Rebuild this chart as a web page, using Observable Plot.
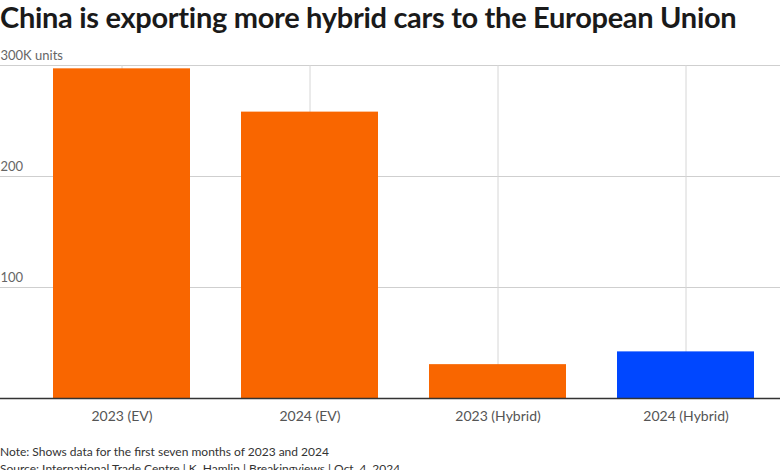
<!DOCTYPE html>
<html>
<head>
<meta charset="utf-8">
<script src="https://cdn.jsdelivr.net/npm/d3@7"></script>
<script src="https://cdn.jsdelivr.net/npm/@observablehq/plot@0.6"></script>
<style>
  body { margin: 0; background: #fff; font-family: Lato, "Noto Sans", sans-serif; }
  #title { font-size: 29px; font-weight: 700; color: #1a1a1a; height: 40px; line-height: 34px; white-space: nowrap; letter-spacing: -0.3px; }
  #caption { font-size: 12px; color: #333; line-height: 17px; margin-top: 13px; }
</style>
</head>
<body>
<div id="title">China is exporting more hybrid cars to the European Union</div>
<div id="chart"></div>
<div id="caption">Note: Shows data for the first seven months of 2023 and 2024<br>Source: International Trade Centre | K. Hamlin | Breakingviews | Oct. 4, 2024</div>
<script>
const categories = ["2023 (EV)", "2024 (EV)", "2023 (Hybrid)", "2024 (Hybrid)"];
const values = [297, 258, 30.5, 42];
const colors = ["#f96600", "#f96600", "#f96600", "#0047ff"];
const yTicks = [100, 200, 300];

const data = categories.map((c, i) => ({category: c, value: values[i], color: colors[i]}));

const chart = Plot.plot({
  width: 780,
  height: 390,
  marginTop: 25,
  marginBottom: 32,
  marginLeft: 0,
  marginRight: 0,
  style: {fontFamily: "Lato, 'Noto Sans', sans-serif"},
  x: {domain: categories, range: [28, 780], paddingInner: 0.27, paddingOuter: 0.135, label: null},
  y: {domain: [0, 300], label: null},
  marks: [
    Plot.ruleY(yTicks, {stroke: "#cfcfcf", strokeWidth: 1}),
    Plot.ruleX(categories, {x: d => d, y1: 0, y2: 300, stroke: "#d6d6d6", strokeWidth: 1}),
    Plot.barY(data, {x: "category", y: "value", fill: "color"}),
    Plot.ruleY([0], {stroke: "#333", strokeWidth: 1.5}),
    Plot.axisY(yTicks, {anchor: "left", tickSize: 0, tickPadding: 0, textAnchor: "start", dy: -10, fontSize: 13, fill: "#666",
      tickFormat: d => d === 300 ? "300K units" : String(d)}),
    Plot.axisX({tickSize: 0, tickPadding: 13, fontSize: 14, fill: "#555", label: null})
  ]
});
document.getElementById("chart").appendChild(chart);
</script>
</body>
</html>
